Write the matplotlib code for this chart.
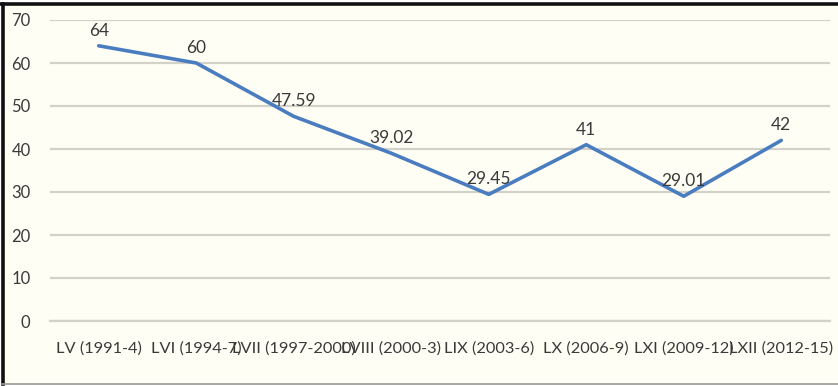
import matplotlib
matplotlib.use("Agg")
import matplotlib.pyplot as plt
from matplotlib.patches import Rectangle

categories = ["LV (1991-4)", "LVI (1994-7)", "LVII (1997-2000)", "LVIII (2000-3)",
              "LIX (2003-6)", "LX (2006-9)", "LXI (2009-12)", "LXII (2012-15)"]
values = [64, 60, 47.59, 39.02, 29.45, 41, 29.01, 42]
value_labels = ["64", "60", "47.59", "39.02", "29.45", "41", "29.01", "42"]
yticks = [0, 10, 20, 30, 40, 50, 60, 70]

bg = "#fffef4"
text_color = "#3a3a3a"
line_color = "#4a7cc0"
grid_color = "#d2d2c8"

plt.rcParams["font.family"] = ["Lato", "DejaVu Sans"]

fig = plt.figure(figsize=(8.38, 3.86), dpi=100, facecolor="white")

# cream chart panel with a dark frame on top/left and a grey line at the bottom
W, H = 838, 386
fig.patches.append(Rectangle((2 / W, 2 / H), 836 / W, 380 / H, transform=fig.transFigure,
                             facecolor=bg, edgecolor="none", zorder=-5))
fig.add_artist(plt.Line2D([1 / W, 838 / W], [1 - 3.5 / H, 1 - 3.5 / H], color="#111111",
                          lw=2.6, transform=fig.transFigure, zorder=5))
fig.add_artist(plt.Line2D([2.5 / W, 2.5 / W], [2 / H, 1 - 3.5 / H], color="#111111",
                          lw=2.6, transform=fig.transFigure, zorder=5))
fig.add_artist(plt.Line2D([2 / W, 838 / W], [2.5 / H, 2.5 / H], color="#9a9a94",
                          lw=1.2, transform=fig.transFigure, zorder=5))

ax = fig.add_axes([50 / W, 1 - 321 / H, 780 / W, 301 / H])
ax.set_zorder(2)
ax.set_facecolor("none")

x = list(range(len(categories)))
ax.plot(x, values, color=line_color, lw=2.6, solid_capstyle="round", zorder=3)
for xi, v, lab in zip(x, values, value_labels):
    ax.annotate(lab, (xi, v), xytext=(0, 5), textcoords="offset points",
                ha="center", va="bottom", fontsize=12.5, color=text_color, zorder=4)

ax.set_xlim(-0.5, len(categories) - 0.5)
ax.set_ylim(0, 70)
ax.set_yticks(yticks)
ax.set_xticks(x)
ax.set_xticklabels(categories, fontsize=11.8, color=text_color)
ax.tick_params(axis="y", labelsize=12, colors=text_color, length=0, pad=14)
ax.tick_params(axis="x", length=0, pad=15)
ax.yaxis.grid(True, color=grid_color, lw=1.6)
ax.set_axisbelow(True)
for s in ["top", "right", "left"]:
    ax.spines[s].set_visible(False)
ax.spines["bottom"].set_color(grid_color)
ax.spines["bottom"].set_linewidth(1.6)

fig.savefig("out.png", dpi=100, facecolor="white")
